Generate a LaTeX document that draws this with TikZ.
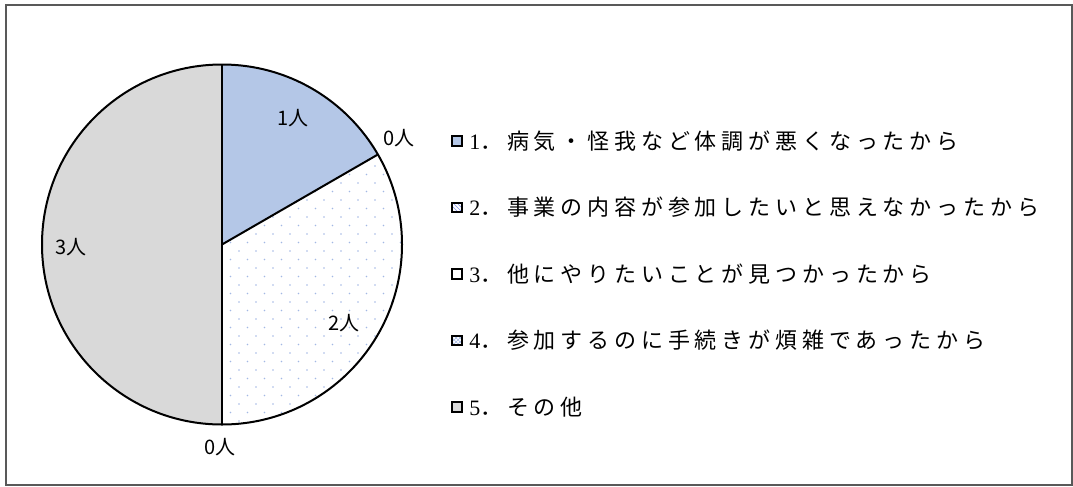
\documentclass[tikz,border=0pt]{standalone}
\usepackage{fontspec}
\setmainfont{Liberation Serif}
\newfontfamily\jpfont{Noto Sans CJK JP}
\newfontfamily\jplegend[LetterSpace=22]{Noto Sans CJK JP}
\newfontfamily\numfont[LetterSpace=22]{Liberation Serif}
\usetikzlibrary{patterns,positioning}
\definecolor{sliceblue}{HTML}{B4C7E7}
\definecolor{dotblue}{HTML}{A3B8E4}
\definecolor{slicegray}{HTML}{D9D9D9}
\definecolor{framegray}{HTML}{595959}

\begin{document}
\begin{tikzpicture}[x=0.75pt, y=-0.75pt,
		slice/.style={draw=black, line width=1.5pt, line join=round},
		count/.style={font=\jpfont\fontsize{15}{15}\selectfont, inner sep=0pt},
		swatch/.style={draw=black, line width=1.5pt, minimum size=7pt, inner sep=0pt},
		entry/.style={font=\jplegend\fontsize{16.5}{16.5}\selectfont, anchor=west, inner sep=0pt},
	]
		\useasboundingbox (0,0) rectangle (1073,486);
		\draw[framegray, line width=1.5pt] (6,5) rectangle (1072,485);
		
		\coordinate (c) at (222,244.5);
		
		% pie slices
		\fill[sliceblue] (c) -- ++(-90:180) arc (-90:-30:180) -- cycle;
		\fill[slicegray] (c) -- ++(90:180) arc (90:270:180) -- cycle;
		\begin{scope}
			\clip (c) -- ++(-30:180) arc (-30:90:180) -- cycle;
			\foreach \i in {0,...,11}
				\foreach \j in {0,...,43}
					\fill[dotblue] ({222+\i*17+8.5*mod(\j,2)}, {64+\j*8.5}) circle (0.9);
		\end{scope}
		\draw[slice] (c) -- ++(-90:180);
		\draw[slice] (c) -- ++(90:180);
		\draw[slice] (c) -- ++(-30:180);
		\draw[slice] (c) circle (180);
		
		\node (n1) [count] at (293,118) {1人};
		\node (n2) [count] at (344,323) {2人};
		\node (n3) [count] at (399,138) {0人};
		\node (n4) [count] at (220,447) {0人};
		\node (n5) [count] at (71,247) {3人};
		
		% legend
		\node (sw1) [swatch, fill=sliceblue] at (457,141) {};
		\node (sw2) [swatch, pattern=north west lines, pattern color=dotblue!80!blue] at (457,207.5) {};
		\node (sw3) [swatch, fill=white] at (457,274) {};
		\node (sw4) [swatch, pattern=crosshatch, pattern color=dotblue] at (457,340.5) {};
		\node (sw5) [swatch, fill=slicegray] at (457,407) {};
		
		\node (lg1) [entry] at (469,141) {{\numfont 1}．病気・怪我など体調が悪くなったから};
		\node (lg2) [entry] at (469,207.5) {{\numfont 2}．事業の内容が参加したいと思えなかったから};
		\node (lg3) [entry] at (469,274) {{\numfont 3}．他にやりたいことが見つかったから};
		\node (lg4) [entry] at (469,340.5) {{\numfont 4}．参加するのに手続きが煩雑であったから};
		\node (lg5) [entry] at (469,407) {{\numfont 5}．その他};
	\end{tikzpicture}
\end{document}
